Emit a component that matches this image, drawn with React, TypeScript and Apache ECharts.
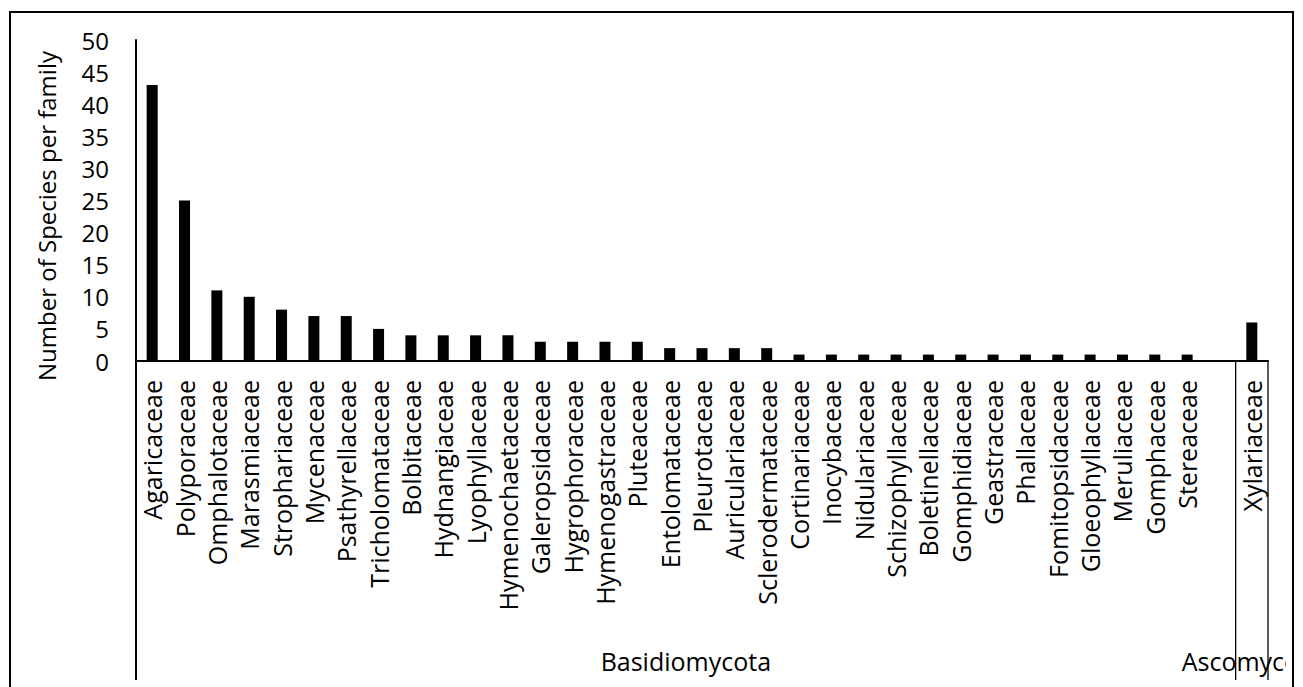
import React, { useEffect, useRef } from "react";
import * as echarts from "echarts";

const families: string[] = [
  "Agaricaceae", "Polyporaceae", "Omphalotaceae", "Marasmiaceae", "Strophariaceae",
  "Mycenaceae", "Psathyrellaceae", "Tricholomataceae", "Bolbitaceae", "Hydnangiaceae",
  "Lyophyllaceae", "Hymenochaetaceae", "Galeropsidaceae", "Hygrophoraceae", "Hymenogastraceae",
  "Pluteaceae", "Entolomataceae", "Pleurotaceae", "Auriculariaceae", "Sclerodermataceae",
  "Cortinariaceae", "Inocybaceae", "Nidulariaceae", "Schizophyllaceae", "Boletinellaceae",
  "Gomphidiaceae", "Geastraceae", "Phallaceae", "Fomitopsidaceae", "Gloeophyllaceae",
  "Meruliaceae", "Gomphaceae", "Stereaceae", "", "Xylariaceae",
];

const speciesCounts: (number | null)[] = [
  43, 25, 11, 10, 8,
  7, 7, 5, 4, 4,
  4, 4, 3, 3, 3,
  3, 2, 2, 2, 2,
  1, 1, 1, 1, 1,
  1, 1, 1, 1, 1,
  1, 1, 1, null, 6,
];

// phylum groups: [label, first category index, last category index]
const phylumNames: string[] = ["Basidiomycota", "Ascomycota"];
const phylumStart: number[] = [0, 34];
const phylumEnd: number[] = [33, 34];

const yTicks = { min: 0, max: 50, interval: 5 };
const yTitle = "Number of Species per family";

const FONT = "'Open Sans', sans-serif";

export default function App() {
  const ref = useRef<HTMLDivElement>(null);

  useEffect(() => {
    if (!ref.current) return;
    const chart = echarts.init(ref.current, null, { renderer: "svg" });
    chart.setOption({
      animation: false,
      grid: { left: 136, right: 35, top: 40, bottom: 326, containLabel: false },
      xAxis: {
        type: "category",
        data: families,
        axisLine: { show: true, lineStyle: { color: "#000", width: 2 } },
        axisTick: { show: false },
        axisLabel: {
          interval: 0,
          rotate: 90,
          margin: 19,
          color: "#000",
          fontFamily: FONT,
          fontSize: 25,
        },
        splitLine: { show: false },
      },
      yAxis: {
        type: "value",
        min: yTicks.min,
        max: yTicks.max,
        interval: yTicks.interval,
        axisLine: { show: true, lineStyle: { color: "#000", width: 2 } },
        axisTick: { show: false },
        splitLine: { show: false },
        axisLabel: {
          margin: 27,
          color: "#000",
          fontFamily: FONT,
          fontSize: 24,
        },
      },
      series: [
        {
          type: "bar",
          data: speciesCounts,
          barWidth: 11,
          itemStyle: { color: "#000" },
        },
      ],
    });

    const cx = (i: number) => chart.convertToPixel({ xAxisIndex: 0 }, i) as number;
    const bw = cx(1) - cx(0);
    const axisY = chart.convertToPixel({ yAxisIndex: 0 }, 0) as number;
    const sepBottom = 680;
    const labelY = 661;

    const graphics: any[] = [];
    // group labels
    phylumNames.forEach((name, k) => {
      const l = cx(phylumStart[k]) - bw / 2;
      const r = cx(phylumEnd[k]) + bw / 2;
      graphics.push({
        type: "text",
        x: (l + r) / 2,
        y: labelY,
        z: 10,
        style: {
          text: name,
          fill: "#000",
          font: `25px ${FONT}`,
          textAlign: "center",
          textVerticalAlign: "middle",
        },
      });
    });
    // clip overflow at right border (as in the original figure)
    graphics.push({
      type: "rect",
      shape: { x: 1286, y: 600, width: 17, height: 87 },
      style: { fill: "#fff" },
      z: 20,
    });
    // separators
    const bounds: number[] = [cx(0) - bw / 2];
    phylumEnd.forEach((e) => bounds.push(cx(e) + bw / 2));
    bounds.forEach((bx, k) => {
      graphics.push({
        type: "line",
        shape: { x1: bx, y1: axisY, x2: bx, y2: sepBottom },
        style: { stroke: "#000", lineWidth: k === 0 ? 2 : 1.3 },
        z: 30,
      });
    });
    // y axis title
    graphics.push({
      type: "text",
      x: 46,
      y: 216,
      rotation: Math.PI / 2,
      z: 10,
      style: {
        text: yTitle,
        fill: "#000",
        font: `24px ${FONT}`,
        textAlign: "center",
        textVerticalAlign: "middle",
      },
    });
    // outer border
    graphics.push({
      type: "polyline",
      shape: { points: [[10, 687], [10, 12], [1293, 12], [1293, 687]] },
      style: { stroke: "#000", lineWidth: 2, fill: null },
      z: 40,
    });
    chart.setOption({ graphic: graphics });

    return () => chart.dispose();
  }, []);

  return (
    <div
      ref={ref}
      style={{ position: "absolute", left: 0, top: 0, width: 1303, height: 687, background: "#fff" }}
    />
  );
}
